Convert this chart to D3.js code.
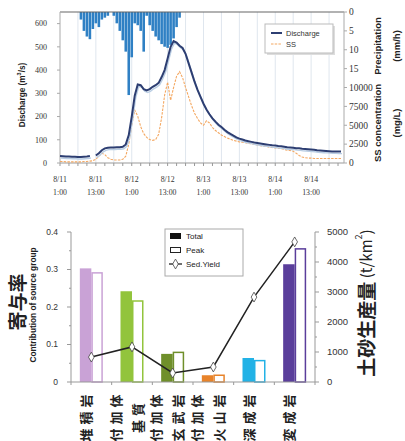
<!DOCTYPE html>
<html><head><meta charset="utf-8">
<script src="https://cdn.jsdelivr.net/npm/d3@7"></script>
<style>body{margin:0;background:#fff}svg{display:block}</style>
</head><body>
<svg id="c" width="405" height="441"></svg>
<script>
// ---------- DATA ----------
// Top chart: hourly series starting 8/11 1:00 (index = hours since 8/11 1:00)
const timeTickLabels = [["8/11","1:00"],["8/11","13:00"],["8/12","1:00"],["8/12","13:00"],["8/13","1:00"],["8/13","13:00"],["8/14","1:00"],["8/14","13:00"]];
const timeTickHours = [0,12,24,36,48,60,72,84];
const discharge = [30,29,28,28,27,27,26,26,27,28,30,null,32,42,55,63,66,67,67,68,68,70,80,120,200,290,338,335,318,312,318,328,335,345,370,400,450,500,525,518,505,495,470,430,390,350,315,285,255,230,210,192,178,165,155,143,133,125,118,110,105,101,97,94,91,88,86,84,82,80,78,76,75,73,72,70,68,67,66,64,63,61,60,59,58,57,55,54,53,52,51,50,50,49,49];
const ssConc = [200,200,150,150,150,150,150,150,200,200,250,300,500,900,1300,1100,700,500,400,400,400,500,900,2500,5000,7000,6200,4800,3900,3400,3100,3000,3100,3800,6000,9000,10700,8300,10000,11500,12100,11300,10000,8800,7600,6600,5900,5300,5000,5600,5300,4700,4300,4000,3700,3500,3300,3150,3000,2900,2800,2750,2700,2600,2550,2450,2400,2300,2250,2200,2100,2050,2000,1950,1900,1800,1700,1650,1550,1300,1000,800,700,650,650,600,600,600,600,600,600,600,600,600,600];
const precipitation = [0,0,0,0,0,0,0,2,5,6.5,7.2,4.5,3,4,2,1.5,1,0,1,3,5,7.5,10.5,22,12,3,3.5,5,10.5,1,3.5,5,6.5,7.5,8.5,9.2,9.5,8.7,7,4,1.5,0,0,0,0,0,0,0,0,0,0,0,0,0,0,0,0,0,0,0,0,0,0,0,0,0,0,0,0,0,0,0,0,0,0,0,0,0,0,0,0,0,0,0,0,0,0,0,0,0,0,0,0,0,0];
const dischargeTicks = [0,100,200,300,400,500,600];
const precipTicks = [0,5,10,15];
const ssTicks = [0,2500,5000,7500,10000];

// Bottom chart
const categories = [["堆積岩"],["付加体","基質"],["付加体","玄武岩"],["付加体","火山岩"],["深成岩"],["変成岩"]];
const totalContribution = [0.303,0.242,0.075,0.018,0.064,0.314];
const peakContribution  = [0.293,0.218,0.081,0.020,0.059,0.357];
const sedYield = [830,1170,300,500,2830,4670];
const contribTicks = [0,0.1,0.2,0.3,0.4];
const yieldTicks = [0,1000,2000,3000,4000,5000];

// ---------- STYLE ----------
const catColors = ["#c9a2d6","#92c43c","#6f8f2a","#e8832a","#22b2e6","#5a3e9b"];
const svg = d3.select("#c");
const serif = "'Liberation Serif','DejaVu Serif',serif";
const sans = "'Liberation Sans',Arial,sans-serif";
const jp = "'Noto Sans CJK JP','Noto Sans CJK SC',sans-serif";

function vtext(g,cx,cy,txt,size,weight,family){
  return g.append("text").attr("transform",`translate(${cx},${cy}) rotate(-90)`)
    .attr("text-anchor","middle").attr("dominant-baseline","central")
    .attr("font-family",family||sans).attr("font-size",size).attr("font-weight",weight||"bold")
    .attr("fill","#222").text(txt);
}

// ---------- TOP CHART ----------
const T = {l:60, r:344, t:12, b:163};
const x = d3.scaleLinear().domain([0,95]).range([T.l,T.r]);
const yQ = d3.scaleLinear().domain([0,650]).range([T.b,T.t]);
const yS = d3.scaleLinear().domain([0,20000]).range([T.b,T.t]);
const yP = d3.scaleLinear().domain([0,40]).range([T.t,T.b]);

const gTop = svg.append("g");
gTop.append("g").selectAll("line").data(d3.range(6,95,6)).join("line")
  .attr("x1",d=>x(d)).attr("x2",d=>x(d)).attr("y1",T.t).attr("y2",T.b)
  .attr("stroke","#dfe6ee").attr("stroke-width",1);

const bw = x(1)-x(0);
gTop.append("g").selectAll("rect").data(precipitation.map((p,i)=>({p,i})).filter(d=>d.p>0)).join("rect")
  .attr("x",d=>x(d.i)-bw/2+0.2).attr("width",bw-0.4)
  .attr("y",yP(0)).attr("height",d=>yP(d.p)-yP(0))
  .attr("fill","#2f80c4");

gTop.append("line").attr("x1",T.l).attr("x2",T.r).attr("y1",T.t).attr("y2",T.t).attr("stroke","#666").attr("stroke-width",1.2);
gTop.append("line").attr("x1",T.l).attr("x2",T.r).attr("y1",T.b).attr("y2",T.b).attr("stroke","#999");
gTop.append("line").attr("x1",T.l).attr("x2",T.l).attr("y1",T.t).attr("y2",T.b).attr("stroke","#aaa");
gTop.append("line").attr("x1",T.r).attr("x2",T.r).attr("y1",T.t).attr("y2",T.b).attr("stroke","#aaa");
gTop.append("g").selectAll("line").data(d3.range(0,96,3)).join("line")
  .attr("x1",d=>x(d)).attr("x2",d=>x(d)).attr("y1",T.b).attr("y2",T.b+3).attr("stroke","#999");

const lineSS = d3.line().x((d,i)=>x(i)).y(d=>yS(d));
gTop.append("path").datum(ssConc).attr("d",lineSS).attr("fill","none")
  .attr("stroke","#f4a862").attr("stroke-width",1.1).attr("stroke-dasharray","2.5,1.2");

const lineQ = d3.line().defined(d=>d!=null).x((d,i)=>x(i)).y(d=>yQ(d));
gTop.append("path").datum(discharge).attr("d",lineQ).attr("fill","none")
  .attr("stroke","#b9cde3").attr("stroke-width",1.4).attr("transform","translate(1,2)");
gTop.append("path").datum(discharge).attr("d",lineQ).attr("fill","none")
  .attr("stroke","#2d3e72").attr("stroke-width",2);

gTop.append("g").selectAll("text").data(dischargeTicks).join("text")
  .attr("x",T.l-13).attr("y",d=>yQ(d)).attr("dy","0.35em").attr("text-anchor","end")
  .attr("font-family",serif).attr("font-size",8).attr("fill","#333").text(d=>d);
gTop.append("g").selectAll("line").data(dischargeTicks).join("line")
  .attr("x1",T.l-3).attr("x2",T.l).attr("y1",d=>yQ(d)).attr("y2",d=>yQ(d)).attr("stroke","#aaa");
gTop.append("g").selectAll("text").data(precipTicks).join("text")
  .attr("x",T.r+5).attr("y",d=>yP(d)).attr("dy","0.35em")
  .attr("font-family",serif).attr("font-size",9.5).attr("fill","#333").text(d=>d);
gTop.append("g").selectAll("text").data(ssTicks).join("text")
  .attr("x",T.r+5).attr("y",d=>yS(d)).attr("dy","0.35em")
  .attr("font-family",serif).attr("font-size",9.5).attr("fill","#333").text(d=>d);
gTop.append("g").selectAll("line").data(precipTicks.map(yP).concat(ssTicks.map(yS))).join("line")
  .attr("x1",T.r).attr("x2",T.r+3).attr("y1",d=>d).attr("y2",d=>d).attr("stroke","#aaa");
const xl = gTop.append("g").selectAll("text").data(timeTickHours).join("text")
  .attr("text-anchor","middle").attr("font-family",serif).attr("font-size",7.8).attr("fill","#333");
xl.append("tspan").attr("x",d=>x(d)).attr("y",182).text((d,i)=>timeTickLabels[i][0]);
xl.append("tspan").attr("x",d=>x(d)).attr("y",195).text((d,i)=>timeTickLabels[i][1]);

const dt = vtext(gTop,22,95,"",8.2);
dt.append("tspan").text("Discharge (m");
dt.append("tspan").attr("baseline-shift","super").attr("font-size",5.5).text("3");
dt.append("tspan").text("/s)");
vtext(gTop,377,46,"Precipitation",9.5);
vtext(gTop,396,46,"(mm/h)",9.5);
vtext(gTop,377,123,"SS concentration",9.5);
vtext(gTop,396,123,"(mg/L)",9.5);

const lg = gTop.append("g");
lg.append("rect").attr("x",267).attr("y",26).attr("width",68).attr("height",29).attr("fill","#ddd");
lg.append("rect").attr("x",265).attr("y",24).attr("width",68).attr("height",29).attr("fill","#fff").attr("stroke","#bbb");
lg.append("line").attr("x1",271).attr("x2",282).attr("y1",33).attr("y2",33).attr("stroke","#2d3e72").attr("stroke-width",2);
lg.append("line").attr("x1",271).attr("x2",282).attr("y1",44).attr("y2",44).attr("stroke","#f4a862").attr("stroke-width",1.1).attr("stroke-dasharray","2.5,1.2");
lg.append("text").attr("x",286).attr("y",35.5).attr("font-family",sans).attr("font-size",7.5).attr("fill","#333").text("Discharge");
lg.append("text").attr("x",286).attr("y",46.5).attr("font-family",sans).attr("font-size",7.5).attr("fill","#333").text("SS");

// ---------- BOTTOM CHART ----------
const B = {l:71, r:315, t:232, b:382};
const xb = d3.scaleBand().domain(d3.range(categories.length)).range([B.l,B.r]);
const yL = d3.scaleLinear().domain([0,0.4]).range([B.b,B.t]);
const yR = d3.scaleLinear().domain([0,5000]).range([B.b,B.t]);
const bot = svg.append("g");
const barW = 11.5;
const cx = i => xb(i)+xb.bandwidth()/2;

bot.append("g").selectAll("rect").data(totalContribution).join("rect")
  .attr("x",(d,i)=>cx(i)-barW).attr("width",barW)
  .attr("y",d=>yL(d)).attr("height",d=>B.b-yL(d)).attr("fill",(d,i)=>catColors[i]);
bot.append("g").selectAll("rect").data(peakContribution).join("rect")
  .attr("x",(d,i)=>cx(i)+0.75).attr("width",barW-1.5)
  .attr("y",d=>yL(d)+0.75).attr("height",d=>B.b-yL(d)-0.75).attr("fill","#fff")
  .attr("stroke",(d,i)=>catColors[i]).attr("stroke-width",1.5);

bot.append("line").attr("x1",B.l).attr("x2",B.r).attr("y1",B.b).attr("y2",B.b).attr("stroke","#999");
bot.append("line").attr("x1",B.l).attr("x2",B.l).attr("y1",B.t).attr("y2",B.b).attr("stroke","#999");
bot.append("line").attr("x1",B.r).attr("x2",B.r).attr("y1",B.t).attr("y2",B.b).attr("stroke","#999");
bot.append("g").selectAll("line").data(d3.range(0,0.401,0.05)).join("line")
  .attr("x1",d=>B.l-(Math.round(d*100)%10===0?4:2)).attr("x2",B.l).attr("y1",d=>yL(d)).attr("y2",d=>yL(d)).attr("stroke","#999");
bot.append("g").selectAll("line").data(d3.range(0,5001,500)).join("line")
  .attr("x1",B.r).attr("x2",d=>B.r+(d%1000===0?4:2)).attr("y1",d=>yR(d)).attr("y2",d=>yR(d)).attr("stroke","#999");
bot.append("g").selectAll("line").data(d3.range(categories.length+1)).join("line")
  .attr("x1",d=>B.l+d*xb.bandwidth()).attr("x2",d=>B.l+d*xb.bandwidth()).attr("y1",B.b).attr("y2",B.b+3).attr("stroke","#999");

bot.append("g").selectAll("text").data(contribTicks).join("text")
  .attr("x",B.l-13).attr("y",d=>yL(d)).attr("dy","0.35em").attr("text-anchor","end")
  .attr("font-family",sans).attr("font-size",8.5).attr("fill","#333").text(d=>d===0?"0":d.toFixed(1));
bot.append("g").selectAll("text").data(yieldTicks).join("text")
  .attr("x",B.r+12).attr("y",d=>yR(d)).attr("dy","0.35em")
  .attr("font-family",sans).attr("font-size",9.5).attr("fill","#333").text(d=>d);

const lineY = d3.line().x((d,i)=>cx(i)).y(d=>yR(d));
bot.append("path").datum(sedYield).attr("d",lineY).attr("fill","none").attr("stroke","#222").attr("stroke-width",1.5);
const diamond = d3.symbol().type(d3.symbolDiamond).size(28);
bot.append("g").selectAll("path").data(sedYield).join("path")
  .attr("d",diamond).attr("transform",(d,i)=>`translate(${cx(i)},${yR(d)})`)
  .attr("fill","#fff").attr("stroke","#444").attr("stroke-width",0.8);

categories.forEach((lines,i)=>{
  const n = lines.length;
  lines.forEach((t,j)=>{
    const off = (j-(n-1)/2)*22;
    bot.append("text").attr("transform",`translate(${cx(i)+off-6},${416}) rotate(-90)`)
      .attr("text-anchor","middle").attr("dominant-baseline","central")
      .attr("font-family",jp).attr("font-size",13).attr("font-weight","bold")
      .attr("letter-spacing",4).attr("fill","#222").text(t);
  });
});

vtext(bot,16,302,"寄与率",19,"bold",jp);
vtext(bot,33,305,"Contribution of source group",8.3);
const rt = bot.append("text").attr("transform",`translate(365,303) rotate(-90)`)
  .attr("text-anchor","middle").attr("dominant-baseline","central").attr("fill","#222");
rt.append("tspan").attr("font-family",jp).attr("font-size",19).attr("font-weight","bold").text("土砂生産量");
rt.append("tspan").attr("font-family",jp).attr("font-size",15).text(" (t/km");
rt.append("tspan").attr("font-family",jp).attr("font-size",9).attr("baseline-shift","super").text("2");
rt.append("tspan").attr("font-family",jp).attr("font-size",15).text(")");

const lb = bot.append("g");
lb.append("rect").attr("x",165).attr("y",229).attr("width",78).attr("height",47).attr("fill","#fff").attr("stroke","#aaa");
lb.append("rect").attr("x",170).attr("y",233).attr("width",11).attr("height",6).attr("fill","#111");
lb.append("rect").attr("x",170.5).attr("y",247.5).attr("width",10).attr("height",5).attr("fill","#fff").attr("stroke","#222");
lb.append("line").attr("x1",169).attr("x2",182).attr("y1",264).attr("y2",264).attr("stroke","#222").attr("stroke-width",1.3);
lb.append("path").attr("d",diamond).attr("transform","translate(175.5,264)").attr("fill","#fff").attr("stroke","#444").attr("stroke-width",0.8);
[["Total",239],["Peak",253],["Sed.Yield",267]].forEach(([t,y])=>{
  lb.append("text").attr("x",186).attr("y",y).attr("font-family",sans).attr("font-size",8).attr("fill","#222").text(t);
});
</script>
</body></html>
